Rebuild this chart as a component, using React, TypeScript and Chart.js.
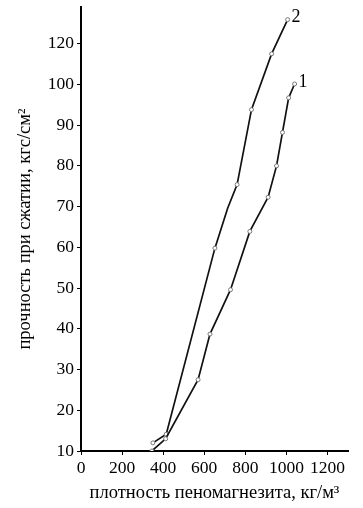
import React, { useEffect, useRef } from "react";
import { Chart, registerables } from "chart.js";

Chart.register(...registerables);

// Series 2 (upper curve)
const density2 = [350, 415, 652, 714, 760, 830, 928, 1006];
const strength2 = [12, 14.1, 59.8, 69.6, 75.4, 93.8, 107.5, 115.9];
const marker2 = [true, true, true, false, true, true, true, true];

// Series 1 (lower curve)
const density1 = [345, 412, 570, 628, 728, 822, 911, 952, 981, 1011, 1040];
const strength1 = [10, 13, 27.5, 38.7, 49.6, 63.9, 72.3, 80, 88.2, 96.7, 100.1];
const marker1 = [true, true, true, true, true, true, true, true, true, true, true];

const seriesNames = ["1", "2"];

// y tick labels as printed (the last step is labelled 120)
const yTickValues = [10, 20, 30, 40, 50, 60, 70, 80, 90, 100, 110];
const yTickLabels = ["10", "20", "30", "40", "50", "60", "70", "80", "90", "100", "120"];
const xTickLabels = ["0", "200", "400", "600", "800", "1000", "1200"];

const FONT = "'Liberation Serif', 'Times New Roman', serif";

export default function App() {
  const ref = useRef<HTMLCanvasElement | null>(null);

  useEffect(() => {
    if (!ref.current) return;
    const labelPlugin = {
      id: "endLabels",
      afterDatasetsDraw(chart: any) {
        const c = chart.ctx;
        c.save();
        c.fillStyle = "#000";
        c.font = `18px ${FONT}`;
        c.textAlign = "left";
        c.textBaseline = "middle";
        chart.data.datasets.forEach((ds: any, i: number) => {
          const meta = chart.getDatasetMeta(i);
          const last = meta.data[meta.data.length - 1];
          if (last) c.fillText(ds.label, last.x + 4, last.y - 2);
        });
        c.restore();
      },
    };

    const mk = (xs: number[], ys: number[]) => xs.map((x, i) => ({ x, y: ys[i] }));

    const chart = new Chart(ref.current, {
      type: "line",
      data: {
        datasets: [
          {
            label: seriesNames[0],
            data: mk(density1, strength1),
            borderColor: "#111",
            borderWidth: 1.7,
            pointRadius: (ctx: any) => (marker1[ctx.dataIndex] ? 2 : 0),
            pointBackgroundColor: "#fff",
            pointBorderColor: "#777",
            pointBorderWidth: 1,
            tension: 0,
          },
          {
            label: seriesNames[1],
            data: mk(density2, strength2),
            borderColor: "#111",
            borderWidth: 1.7,
            pointRadius: (ctx: any) => (marker2[ctx.dataIndex] ? 2 : 0),
            pointBackgroundColor: "#fff",
            pointBorderColor: "#777",
            pointBorderWidth: 1,
            tension: 0,
          },
        ],
      },
      options: {
        animation: false,
        responsive: false,
        maintainAspectRatio: false,
        layout: { padding: { left: 0, right: 15, top: 7, bottom: 0 } },
        plugins: { legend: { display: false }, tooltip: { enabled: false } },
        scales: {
          x: {
            type: "linear",
            min: 0,
            max: 1300,
            border: { color: "#000", width: 2 },
            grid: { drawOnChartArea: false, drawTicks: true, tickLength: 4, color: "#000" },
            afterBuildTicks: (scale: any) => {
              scale.ticks = xTickLabels.map((l) => ({ value: Number(l) }));
            },
            ticks: {
              color: "#000",
              font: { family: FONT, size: 17.5 },
              padding: 3,
              maxRotation: 0,
              callback: (v: any) => String(v),
            },
            title: {
              display: true,
              text: "плотность пеномагнезита, кг/м³",
              color: "#000",
              font: { family: FONT, size: 18.5 },
              padding: { top: 0, bottom: 4 },
            },
            afterFit: (scale: any) => {
              scale.height = 57;
            },
          },
          y: {
            type: "linear",
            min: 10,
            max: 119,
            border: { color: "#000", width: 2 },
            grid: { drawOnChartArea: false, drawTicks: true, tickLength: 4, color: "#000" },
            afterBuildTicks: (scale: any) => {
              scale.ticks = yTickValues.map((v) => ({ value: v }));
            },
            ticks: {
              color: "#000",
              font: { family: FONT, size: 17.5 },
              padding: 3,
              callback: (v: any) => {
                const i = yTickValues.indexOf(Number(v));
                return i >= 0 ? yTickLabels[i] : "";
              },
            },
            title: {
              display: true,
              text: "прочность при сжатии, кгс/см²",
              color: "#000",
              font: { family: FONT, size: 18.5 },
              padding: { top: 14, bottom: 4 },
            },
            afterFit: (scale: any) => {
              scale.width = 81;
              scale.paddingTop = 0;
              scale.paddingBottom = 0;
            },
          },
        },
      },
      plugins: [labelPlugin],
    } as any);
    return () => chart.destroy();
  }, []);

  return (
    <div style={{ position: "fixed", left: 0, top: 0, width: 363, height: 508, background: "#fff" }}>
      <canvas ref={ref} width={363} height={508} style={{ width: 363, height: 508 }} />
    </div>
  );
}
